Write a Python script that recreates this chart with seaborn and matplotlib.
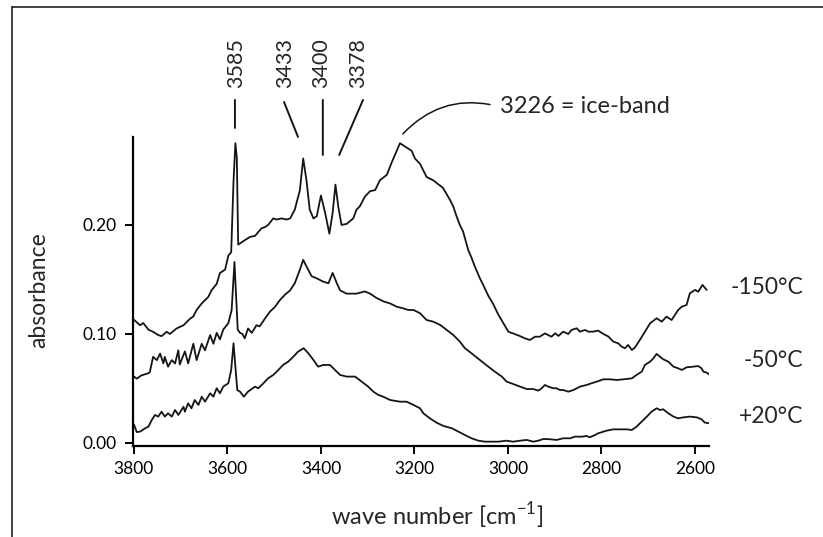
import pandas as pd
import matplotlib
matplotlib.use("Agg")
import matplotlib.pyplot as plt
import seaborn as sns
from matplotlib.lines import Line2D

# ===== DATA =====
wn_m150 = [3800, 3787, 3780, 3769, 3759, 3748, 3741, 3730, 3723, 3709, 3694, 3680, 3673, 3666,
           3655, 3641, 3634, 3623, 3616, 3605, 3598, 3592, 3587, 3583, 3580, 3577, 3563, 3552,
           3541, 3527, 3520, 3513, 3502, 3495, 3484, 3473, 3466, 3456, 3445, 3438, 3431, 3424,
           3416, 3409, 3400, 3391, 3382, 3375, 3369, 3363, 3356, 3345, 3331, 3324, 3317, 3306,
           3295, 3284, 3274, 3259, 3249, 3242, 3231, 3224, 3213, 3206, 3199, 3188, 3174, 3160,
           3139, 3124, 3117, 3110, 3103, 3096, 3085, 3078, 3071, 3060, 3053, 3042, 3031, 3021,
           3010, 2999, 2989, 2974, 2964, 2953, 2942, 2932, 2921, 2914, 2907, 2899, 2892, 2882,
           2871, 2864, 2853, 2846, 2835, 2828, 2818, 2807, 2796, 2785, 2775, 2764, 2757, 2750,
           2743, 2735, 2728, 2718, 2707, 2696, 2682, 2671, 2661, 2650, 2643, 2636, 2628, 2618,
           2611, 2600, 2593, 2584, 2575]
abs_m150 = [0.113, 0.108, 0.110, 0.104, 0.102, 0.099, 0.098, 0.102, 0.100, 0.105, 0.108, 0.114,
            0.116, 0.122, 0.128, 0.134, 0.140, 0.146, 0.156, 0.159, 0.172, 0.175, 0.240, 0.275,
            0.262, 0.182, 0.186, 0.189, 0.190, 0.197, 0.198, 0.200, 0.206, 0.205, 0.206, 0.205,
            0.206, 0.214, 0.232, 0.261, 0.241, 0.214, 0.206, 0.208, 0.227, 0.211, 0.192, 0.211,
            0.237, 0.217, 0.200, 0.201, 0.206, 0.214, 0.217, 0.226, 0.231, 0.232, 0.241, 0.246,
            0.257, 0.264, 0.275, 0.273, 0.270, 0.268, 0.261, 0.256, 0.244, 0.241, 0.234, 0.223,
            0.217, 0.208, 0.200, 0.194, 0.177, 0.170, 0.162, 0.151, 0.145, 0.135, 0.127, 0.118,
            0.110, 0.102, 0.1005, 0.098, 0.096, 0.0945, 0.0975, 0.0975, 0.1005, 0.099, 0.0975,
            0.1006, 0.0982, 0.1021, 0.100, 0.1037, 0.1052, 0.1021, 0.1037, 0.1021, 0.1021,
            0.1031, 0.100, 0.0976, 0.093, 0.0914, 0.0884, 0.0869, 0.0899, 0.0853, 0.0878,
            0.0945, 0.1021, 0.1098, 0.1144, 0.1113, 0.1159, 0.1128, 0.1174, 0.122, 0.1251,
            0.1266, 0.1373, 0.1404, 0.1388, 0.145, 0.1404]

wn_m50 = [3800, 3794, 3784, 3769, 3766, 3759, 3751, 3744, 3737, 3734, 3727, 3719, 3712, 3705,
          3702, 3691, 3684, 3673, 3666, 3655, 3648, 3637, 3630, 3623, 3616, 3609, 3598, 3591,
          3585, 3578, 3573, 3568, 3563, 3556, 3548, 3538, 3531, 3520, 3509, 3498, 3488, 3477,
          3466, 3456, 3445, 3438, 3431, 3420, 3409, 3395, 3384, 3375, 3366, 3359, 3345, 3324,
          3306, 3295, 3281, 3267, 3252, 3238, 3224, 3213, 3202, 3188, 3174, 3160, 3145, 3131,
          3117, 3103, 3092, 3078, 3060, 3042, 3028, 3013, 3003, 2989, 2974, 2960, 2946, 2935,
          2928, 2921, 2914, 2903, 2896, 2889, 2882, 2871, 2860, 2846, 2832, 2821, 2810, 2796,
          2782, 2767, 2753, 2735, 2725, 2714, 2707, 2696, 2689, 2682, 2675, 2668, 2657, 2646,
          2636, 2628, 2618, 2604, 2593, 2586, 2582, 2575, 2568]
abs_m50 = [0.061, 0.059, 0.062, 0.064, 0.065, 0.079, 0.076, 0.082, 0.073, 0.079, 0.070, 0.076,
           0.073, 0.085, 0.072, 0.084, 0.073, 0.091, 0.076, 0.091, 0.085, 0.099, 0.091, 0.101,
           0.095, 0.104, 0.110, 0.122, 0.166, 0.104, 0.101, 0.100, 0.096, 0.105, 0.101, 0.108,
           0.107, 0.114, 0.1205, 0.125, 0.131, 0.136, 0.140, 0.1465, 0.159, 0.168, 0.162, 0.153,
           0.151, 0.148, 0.1465, 0.156, 0.1465, 0.140, 0.137, 0.137, 0.139, 0.137, 0.133, 0.130,
           0.128, 0.125, 0.1235, 0.122, 0.122, 0.119, 0.1128, 0.1113, 0.1083, 0.1037, 0.0991,
           0.093, 0.0869, 0.0823, 0.0761, 0.070, 0.0654, 0.0609, 0.0563, 0.0541, 0.0517, 0.0495,
           0.0495, 0.048, 0.0502, 0.0532, 0.0517, 0.0502, 0.0502, 0.0486, 0.0486, 0.0471, 0.0486,
           0.0517, 0.0532, 0.0548, 0.0563, 0.0584, 0.0584, 0.0578, 0.0584, 0.0593, 0.0624,
           0.0654, 0.0716, 0.0746, 0.0777, 0.0817, 0.0792, 0.0768, 0.0746, 0.070, 0.0685, 0.067,
           0.0694, 0.070, 0.0706, 0.0685, 0.0654, 0.0645, 0.0624]

wn_p20 = [3800, 3794, 3787, 3776, 3769, 3762, 3755, 3748, 3741, 3734, 3727, 3719, 3712, 3705,
          3694, 3691, 3684, 3677, 3670, 3662, 3655, 3648, 3637, 3630, 3623, 3616, 3609, 3598,
          3592, 3587, 3579, 3573, 3565, 3556, 3541, 3534, 3523, 3513, 3502, 3491, 3481, 3470,
          3459, 3449, 3437, 3427, 3416, 3406, 3395, 3381, 3370, 3359, 3345, 3327, 3313, 3299,
          3288, 3277, 3267, 3252, 3231, 3217, 3202, 3188, 3181, 3167, 3153, 3138, 3120, 3106,
          3092, 3078, 3063, 3049, 3035, 3021, 3003, 2989, 2974, 2960, 2946, 2935, 2924, 2910,
          2896, 2882, 2867, 2857, 2842, 2832, 2825, 2814, 2807, 2789, 2775, 2760, 2746, 2735,
          2725, 2714, 2703, 2693, 2682, 2675, 2668, 2657, 2646, 2636, 2625, 2611, 2596, 2586,
          2579, 2568]
abs_p20 = [0.017, 0.010, 0.0104, 0.0135, 0.015, 0.021, 0.0257, 0.0242, 0.0287, 0.0242, 0.0272,
           0.0242, 0.0303, 0.0257, 0.0333, 0.0287, 0.0364, 0.0318, 0.0394, 0.0349, 0.0425, 0.0379,
           0.0456, 0.0425, 0.0502, 0.0456, 0.0517, 0.0548, 0.067, 0.0915, 0.0486, 0.047, 0.0425,
           0.0471, 0.0517, 0.0502, 0.0548, 0.0593, 0.0624, 0.067, 0.0716, 0.0746, 0.0792, 0.0838,
           0.0869, 0.0823, 0.0761, 0.070, 0.0716, 0.0716, 0.067, 0.0624, 0.0609, 0.0609, 0.0563,
           0.0517, 0.0471, 0.044, 0.0425, 0.0394, 0.0379, 0.0379, 0.0349, 0.0318, 0.0272, 0.0226,
           0.0187, 0.0156, 0.0135, 0.0104, 0.0073, 0.0043, 0.0021, 0.0012, 0.0012, 0.0012, 0.0021,
           0.0012, 0.0021, 0.0028, 0.0012, 0.0021, 0.0037, 0.0034, 0.0028, 0.0043, 0.0043, 0.0058,
           0.0058, 0.0064, 0.0052, 0.0073, 0.0089, 0.0113, 0.0125, 0.0125, 0.0125, 0.0119, 0.015,
           0.0196, 0.0242, 0.0287, 0.0318, 0.0303, 0.0309, 0.0272, 0.0242, 0.0226, 0.0235, 0.0242,
           0.0235, 0.0217, 0.0187, 0.018]

temp_labels = ["-150°C", "-50°C", "+20°C"]
temp_label_y = [0.143, 0.076, 0.024]

x_ticks = [3800, 3600, 3400, 3200, 3000, 2800, 2600]
y_ticks = [0.00, 0.10, 0.20]
y_tick_labels = ["0.00", "0.10", "0.20"]

# marked peaks: label, label x, leader top (wn, A), leader bottom (wn, A)
peak_labels = ["3585", "3433", "3400", "3378"]
peak_label_wn = [3582, 3477, 3400, 3321]
lead_top_wn = [3584, 3479, 3396, 3310]
lead_top_a = [0.3147, 0.3128, 0.3147, 0.3147]
lead_bot_wn = [3584, 3449, 3396, 3361]
lead_bot_a = [0.289, 0.2807, 0.2642, 0.2642]

# ===== TABLE =====
df = pd.concat([
    pd.DataFrame({"wn": wn_m150, "A": abs_m150, "temp": temp_labels[0]}),
    pd.DataFrame({"wn": wn_m50, "A": abs_m50, "temp": temp_labels[1]}),
    pd.DataFrame({"wn": wn_p20, "A": abs_p20, "temp": temp_labels[2]}),
])

# ===== STYLE =====
sns.set_style("ticks")
plt.rcParams["font.family"] = ["Lato", "DejaVu Sans"]
plt.rcParams["mathtext.fontset"] = "custom"
plt.rcParams["mathtext.rm"] = "Lato"

fig = plt.figure(figsize=(8.23, 5.37), dpi=100)
ax = fig.add_axes([0.1616, 0.1695, 0.6999, 0.5754])

for t, part in df.groupby("temp", sort=False):
    sns.lineplot(data=part, x="wn", y="A", ax=ax, color="#151515", lw=1.3,
                 estimator=None, sort=False)

ax.set_xlim(3802, 2570)
ax.set_ylim(-0.00275, 0.2807)
sns.despine(ax=ax)
for s in ["left", "bottom"]:
    ax.spines[s].set_linewidth(1.6)
    ax.spines[s].set_color("black")

ax.set_xticks(x_ticks)
ax.set_xticklabels([str(v) for v in x_ticks])
ax.set_yticks(y_ticks)
ax.set_yticklabels(y_tick_labels)
ax.tick_params(direction="out", length=5.5, width=1.4, color="black",
               labelsize=12.5, labelcolor="black")
ax.tick_params(axis="y", pad=6)
ax.tick_params(axis="x", pad=5)

ax.set_xlabel(r"wave number [cm$^{\mathregular{-1}}$]", fontsize=17)
ax.set_ylabel("absorbance", fontsize=16.5)
ax.xaxis.set_label_coords(0.528, -0.175)
ax.yaxis.set_label_coords(-0.145, 0.505)

# temperature labels to the right of the curves
for lab, y in zip(temp_labels, temp_label_y):
    ax.text(1.163, y, lab, transform=ax.get_yaxis_transform(), ha="right", va="center",
            fontsize=16.5, clip_on=False)

# peak markers above the plot
for lab, xl, xt, yt, xb, yb in zip(peak_labels, peak_label_wn, lead_top_wn, lead_top_a,
                                   lead_bot_wn, lead_bot_a):
    ax.text(xl, 0.3257, lab, rotation=90, ha="center", va="bottom", fontsize=15.5,
            clip_on=False)
    ax.annotate("", xy=(xb, yb), xytext=(xt, yt), annotation_clip=False,
                arrowprops=dict(arrowstyle="-", lw=1.4, color="#151515",
                                shrinkA=0, shrinkB=0))

ax.annotate("3226 = ice-band", xy=(3225, 0.2835), xytext=(3017, 0.3083),
            ha="left", va="center", fontsize=17, annotation_clip=False,
            arrowprops=dict(arrowstyle="-", lw=1.1, color="#151515", relpos=(0, 0.5),
                            shrinkA=5, shrinkB=0, connectionstyle="arc3,rad=0.3"))

# frame lines of the figure (left and top)
fig.add_artist(Line2D([0.0146, 0.0146], [0.0, 0.987], transform=fig.transFigure,
                      color="#222222", lw=1.2))
fig.add_artist(Line2D([0.0146, 1.0], [0.987, 0.987], transform=fig.transFigure,
                      color="#222222", lw=1.2))

fig.savefig("out.png", dpi=100)
